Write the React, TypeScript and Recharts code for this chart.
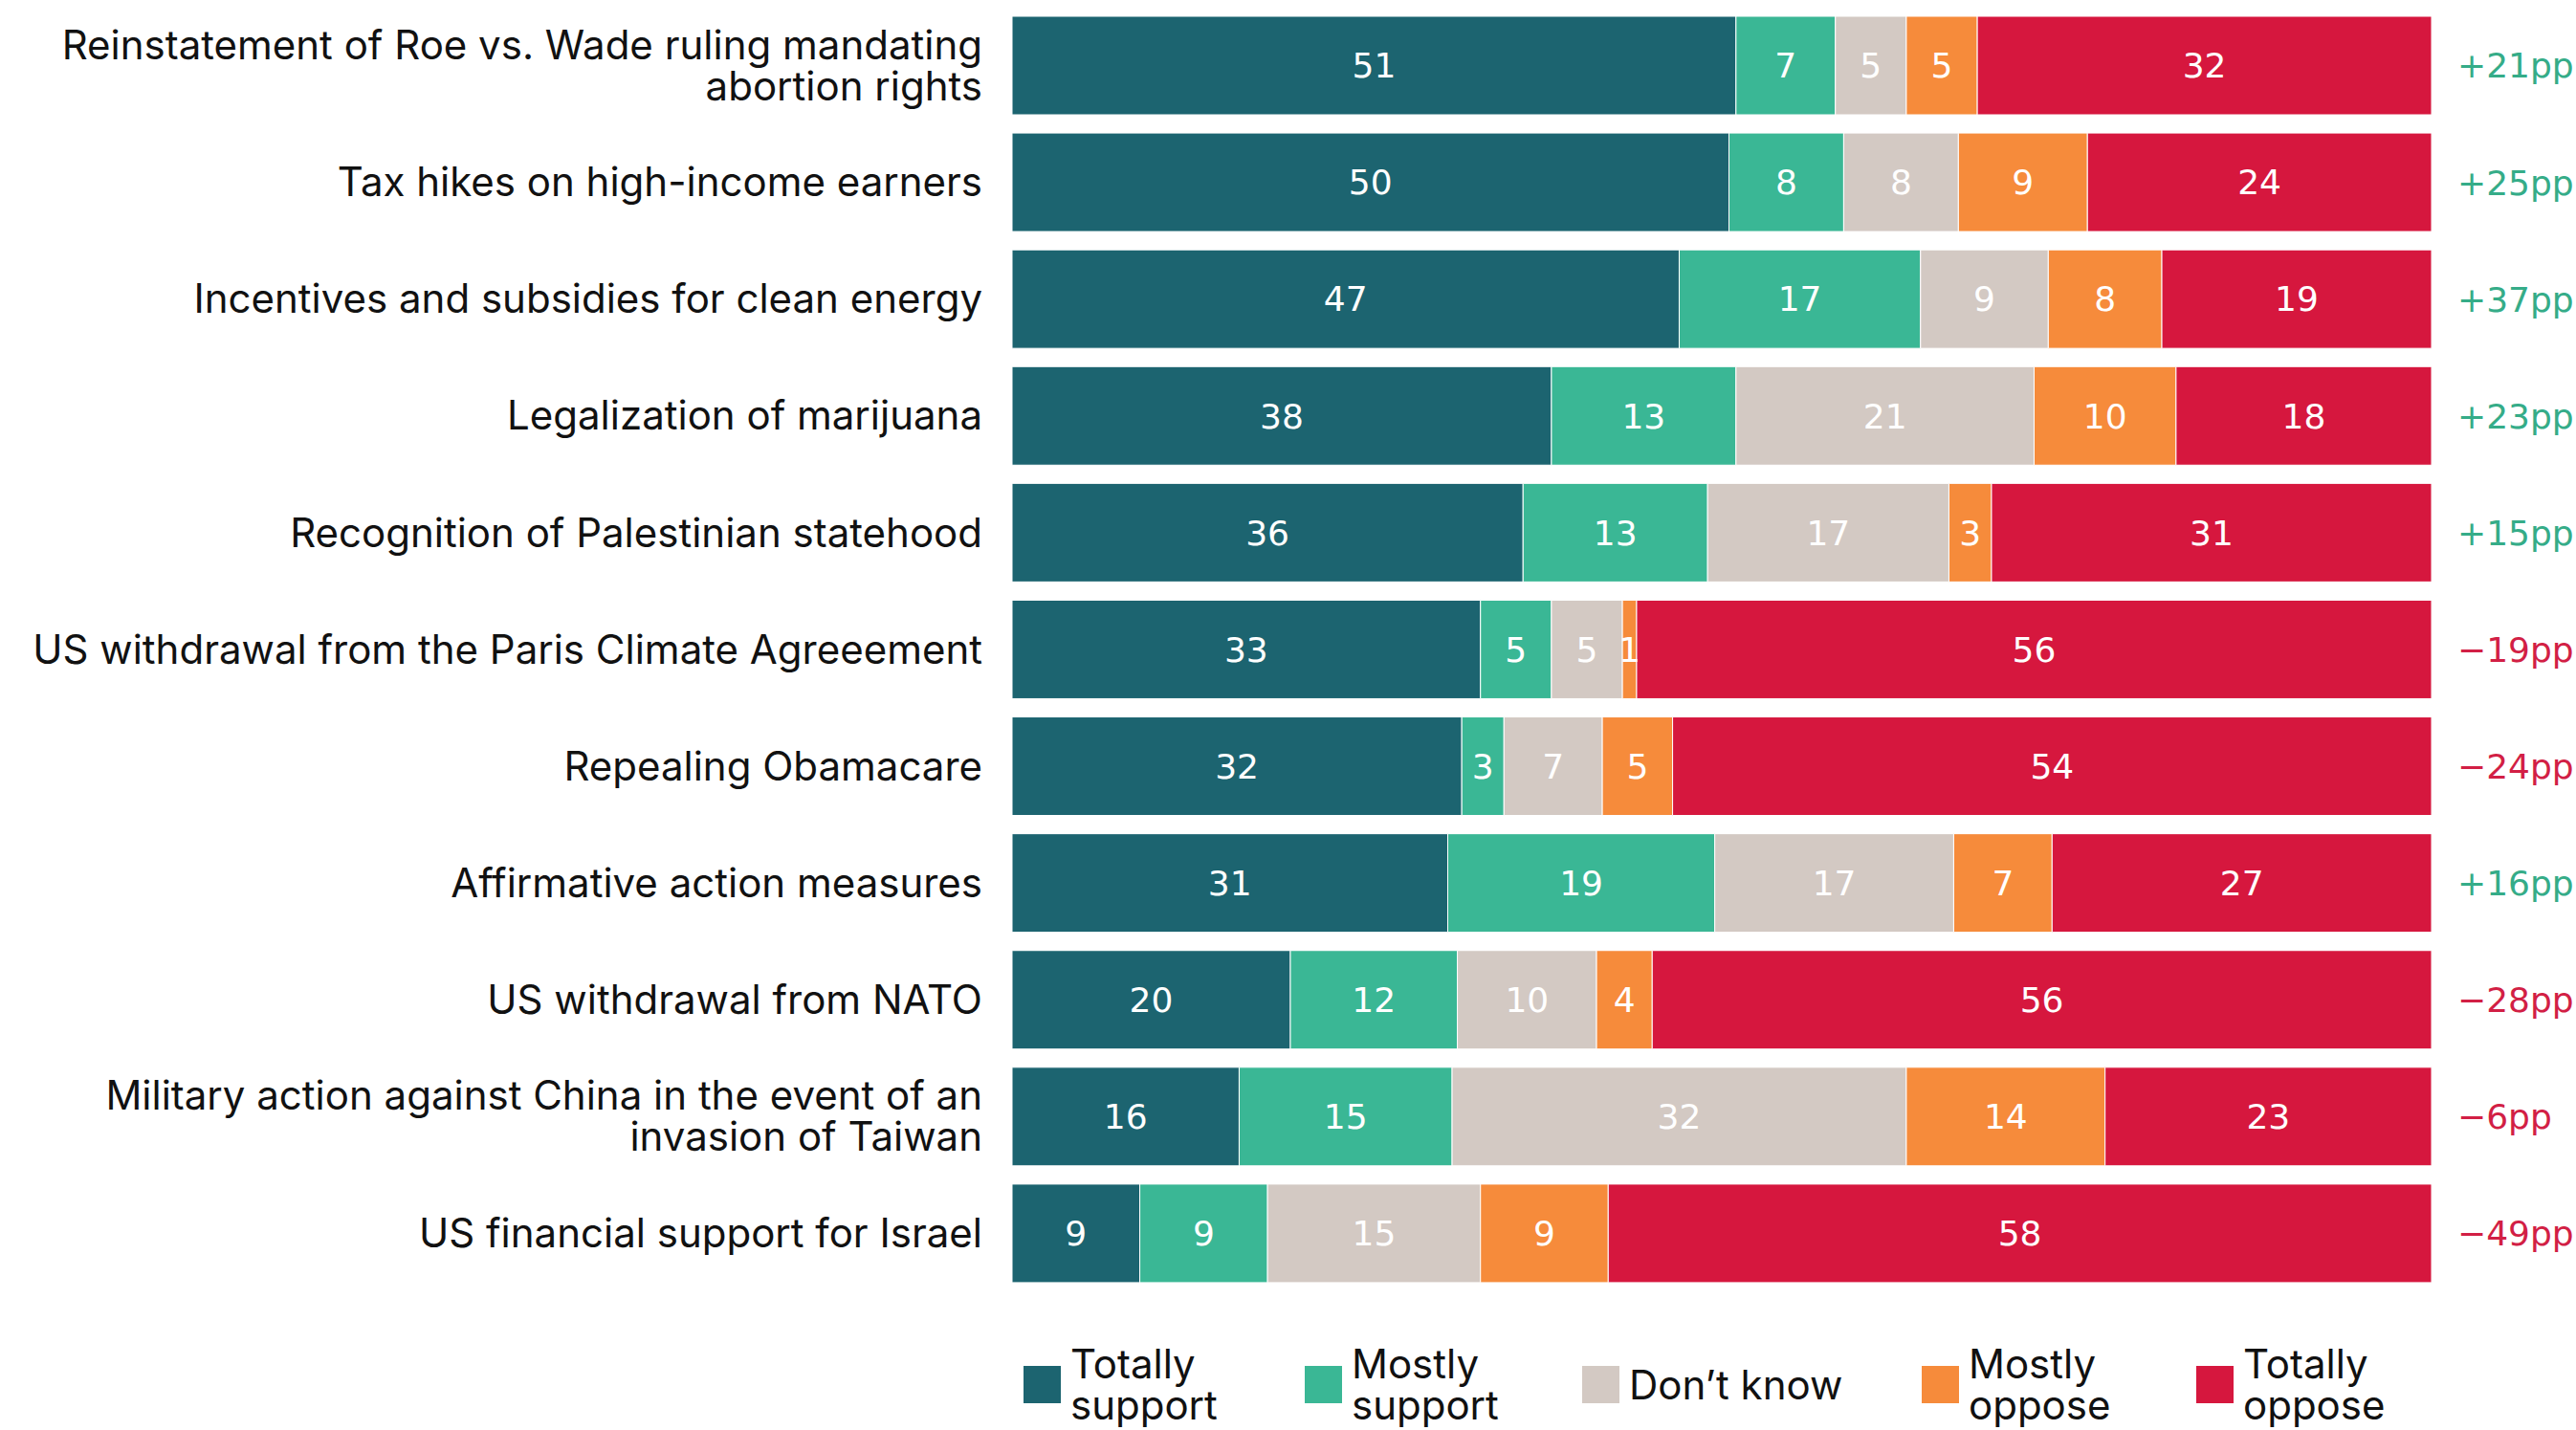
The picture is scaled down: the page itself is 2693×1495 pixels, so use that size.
import React from 'react';
import { BarChart, Bar, XAxis, YAxis, LabelList, Legend } from 'recharts';

const categories = [
  'Reinstatement of Roe vs. Wade ruling mandating\nabortion rights',
  'Tax hikes on high-income earners',
  'Incentives and subsidies for clean energy',
  'Legalization of marijuana',
  'Recognition of Palestinian statehood',
  'US withdrawal from the Paris Climate Agreeement',
  'Repealing Obamacare',
  'Affirmative action measures',
  'US withdrawal from NATO',
  'Military action against China in the event of an\ninvasion of Taiwan',
  'US financial support for Israel',
];
const totallySupport = [51, 50, 47, 38, 36, 33, 32, 31, 20, 16, 9];
const mostlySupport = [7, 8, 17, 13, 13, 5, 3, 19, 12, 15, 9];
const dontKnow = [5, 8, 9, 21, 17, 5, 7, 17, 10, 32, 15];
const mostlyOppose = [5, 9, 8, 10, 3, 1, 5, 7, 4, 14, 9];
const totallyOppose = [32, 24, 19, 18, 31, 56, 54, 27, 56, 23, 58];
const netLabels = ['+21pp', '+25pp', '+37pp', '+23pp', '+15pp', '−19pp', '−24pp', '+16pp', '−28pp', '−6pp', '−49pp'];

const seriesKeys = ['ts', 'ms', 'dk', 'mo', 'to'];
const seriesNames = ['Totally\nsupport', 'Mostly\nsupport', 'Don’t know', 'Mostly\noppose', 'Totally\noppose'];
const seriesColors = ['#1c6470', '#3ab795', '#d3c9c3', '#f68b3b', '#d6173e'];

const data = categories.map((c, i) => ({
  name: c,
  ts: totallySupport[i],
  ms: mostlySupport[i],
  dk: dontKnow[i],
  mo: mostlyOppose[i],
  to: totallyOppose[i],
  net: netLabels[i],
}));

const FONT = 'Inter, "Noto Sans", sans-serif';
const NUMFONT = '"DejaVu Sans", sans-serif';
const LABEL_RIGHT = 1027;
const LABEL_FS = 42;

const CategoryTick = (props: any) => {
  const { y, payload } = props;
  const lines = String(payload.value).split('\n');
  const lh = 43;
  const start = -((lines.length - 1) * lh) / 2 + LABEL_FS * 0.36;
  return (
    <text x={LABEL_RIGHT} y={y} textAnchor="end" fontSize={LABEL_FS} fill="#111" fontFamily={FONT}>
      {lines.map((l, i) => (
        <tspan key={i} x={LABEL_RIGHT} dy={i === 0 ? start : lh}>
          {l}
        </tspan>
      ))}
    </text>
  );
};

const NetLabel = (props: any) => {
  const { x, y, width, height, index } = props;
  const txt = netLabels[index];
  const positive = txt.startsWith('+');
  return (
    <text
      x={Number(x) + Number(width) + 27}
      y={Number(y) + Number(height) / 2}
      dy="0.36em"
      fontSize={36}
      fontFamily={NUMFONT}
      fill={positive ? '#35ac88' : '#d21f45'}
    >
      {txt}
    </text>
  );
};

const legendWidths = [294, 290, 355, 287, 300];

const LegendContent = () => {
  return (
    <div style={{ display: 'flex', alignItems: 'center', paddingLeft: 1070, fontFamily: FONT }}>
      {seriesNames.map((n, i) => (
        <div key={i} style={{ display: 'flex', alignItems: 'center', width: legendWidths[i] }}>
          <div style={{ width: 39, height: 39, background: seriesColors[i], marginRight: 10, flex: 'none' }} />
          <div style={{ whiteSpace: 'pre-line', fontSize: LABEL_FS, lineHeight: '43px', color: '#111' }}>{n}</div>
        </div>
      ))}
    </div>
  );
};

export default function App() {
  return (
    <div style={{ position: 'absolute', left: 0, top: 0, width: 2693, height: 1495, background: '#fff' }}>
      <BarChart
        width={2693}
        height={1495}
        data={data}
        layout="vertical"
        stackOffset="expand"
        margin={{ top: 7, right: 151, bottom: 145, left: 0 }}
      >
        <XAxis type="number" hide domain={[0, 1]} />
        <YAxis
          type="category"
          dataKey="name"
          width={1058}
          axisLine={false}
          tickLine={false}
          interval={0}
          tick={<CategoryTick />}
        />
        <Legend
          layout="horizontal"
          verticalAlign="middle"
          align="center"
          wrapperStyle={{ top: 1404, left: 0, width: 2693 }}
          content={<LegendContent />}
        />
        {seriesKeys.map((k, i) => (
          <Bar
            key={k}
            dataKey={k}
            name={seriesNames[i]}
            stackId="a"
            fill={seriesColors[i]}
            stroke="#ffffff"
            strokeWidth={1}
            barSize={103}
            isAnimationActive={false}
          >
            <LabelList dataKey={k} position="center" fill="#ffffff" fontSize={36} fontFamily={NUMFONT} />
            {k === 'to' ? <LabelList dataKey="net" content={<NetLabel />} /> : null}
          </Bar>
        ))}
      </BarChart>
    </div>
  );
}
